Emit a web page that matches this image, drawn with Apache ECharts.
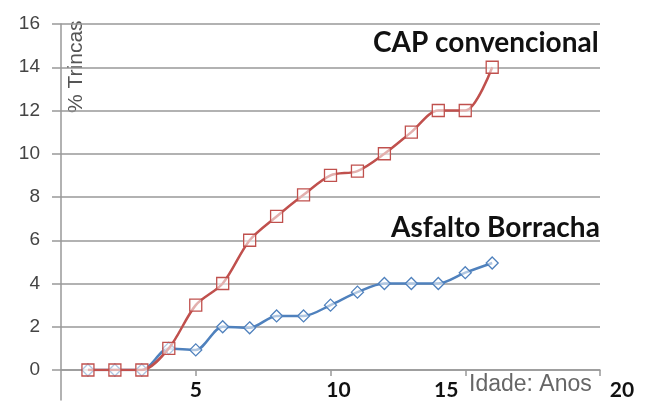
<!DOCTYPE html>
<html>
<head>
<meta charset="utf-8">
<script src="https://cdn.jsdelivr.net/npm/echarts@6/dist/echarts.min.js"></script>
<style>
  html, body { margin: 0; padding: 0; background: #fff; }
  #chart { width: 654px; height: 410px; }
</style>
</head>
<body>
<div id="chart"></div>
<script>
// Crack percentage by pavement age
const years = [1, 2, 3, 4, 5, 6, 7, 8, 9, 10, 11, 12, 13, 14, 15, 16];
const capConvencional = [0, 0, 0, 1, 3, 4, 6, 7.1, 8.1, 9, 9.2, 10, 11, 12, 12, 14];
const asfaltoBorracha = [0, 0, 0, 1, 0.93, 2, 1.95, 2.5, 2.5, 3, 3.6, 4, 4, 4, 4.5, 4.95];
const seriesNames = ['CAP convencional', 'Asfalto Borracha'];
const xTickLabels = ['5', '10', '15', '20'];

const chart = echarts.init(document.getElementById('chart'), null, { renderer: 'canvas' });

const grey = '#999999';
const xLabelStyle = { fontFamily: 'Lato', fontWeight: 'bold', fontSize: 21, color: '#111' };

chart.setOption({
  animation: false,
  backgroundColor: '#ffffff',
  grid: [
    { left: 61, right: 54, top: 24, bottom: 40 },
    // taller grid used only to draw the vertical axis line below zero
    { left: 61, right: 54, top: 24, bottom: 10 }
  ],
  xAxis: [
    {
      type: 'value', gridIndex: 0, min: 0, max: 20, interval: 5,
      axisLine: { show: true, onZero: true, lineStyle: { color: grey, width: 1.5 } },
      axisTick: { show: true, length: 6, lineStyle: { color: grey, width: 1.5 } },
      splitLine: { show: false },
      axisLabel: {
        margin: 10,
        showMinLabel: false,
        formatter: function (v) {
          const s = String(v);
          if (v === 0 || xTickLabels.indexOf(s) < 0) return '';
          if (v === 10) return '{r10|' + s + '}';
          if (v === 15) return '{r15|' + s + '}';
          if (v === 20) return '{r20|' + s + '}';
          return '{b|' + s + '}';
        },
        rich: {
          b: xLabelStyle,
          r10: Object.assign({ padding: [0, 0, 0, 16] }, xLabelStyle),
          r15: Object.assign({ padding: [0, 38, 0, 0] }, xLabelStyle),
          r20: Object.assign({ padding: [0, 0, 0, 44] }, xLabelStyle)
        }
      }
    },
    { type: 'value', gridIndex: 1, min: 0, max: 1, show: false }
  ],
  yAxis: [
    {
      type: 'value', gridIndex: 0, min: 0, max: 16, interval: 2,
      axisLine: { show: false },
      axisTick: { show: true, length: 9, lineStyle: { color: grey, width: 1.5 } },
      splitLine: { show: true, lineStyle: { color: grey, width: 1.6 } },
      axisLabel: {
        margin: 21,
        fontFamily: 'Liberation Sans, Arial, sans-serif',
        fontSize: 19,
        color: '#444'
      }
    },
    {
      type: 'value', gridIndex: 1, min: 0, max: 1,
      axisLine: { show: true, lineStyle: { color: grey, width: 1.5 } },
      axisTick: { show: false },
      axisLabel: { show: false },
      splitLine: { show: false }
    }
  ],
  series: [
    {
      name: seriesNames[1],
      type: 'line',
      xAxisIndex: 0, yAxisIndex: 0,
      data: years.map((x, i) => [x, asfaltoBorracha[i]]),
      smooth: 0.3,
      symbol: 'diamond',
      symbolSize: 12,
      z: 2,
      lineStyle: { color: '#4F81BD', width: 2.5 },
      itemStyle: { color: 'rgba(255,255,255,0.55)', borderColor: '#4F81BD', borderWidth: 1.3 }
    },
    {
      name: seriesNames[0],
      type: 'line',
      xAxisIndex: 0, yAxisIndex: 0,
      data: years.map((x, i) => [x, capConvencional[i]]),
      smooth: 0.3,
      symbol: 'rect',
      symbolSize: 12,
      z: 3,
      lineStyle: { color: '#C0504D', width: 2.5 },
      itemStyle: { color: 'rgba(255,255,255,0.55)', borderColor: '#C0504D', borderWidth: 1.3 }
    }
  ],
  graphic: [
    {
      type: 'text', left: 373, top: 29,
      style: { text: seriesNames[0], fontFamily: 'Lato', fontWeight: 'bold', fontSize: 28, fill: '#111' }
    },
    {
      type: 'text', left: 391, top: 214,
      style: { text: seriesNames[1], fontFamily: 'Lato', fontWeight: 'bold', fontSize: 28, fill: '#111' }
    },
    {
      type: 'text', x: 66, y: 113, rotation: Math.PI / 2,
      style: { text: '% Trincas', fontFamily: 'Liberation Sans, Arial, sans-serif', fontSize: 21, fill: '#555',
               verticalAlign: 'top', align: 'left' }
    },
    {
      type: 'text', left: 469, top: 373,
      style: { text: 'Idade: Anos', fontFamily: 'Liberation Sans, Arial, sans-serif', fontSize: 23, fill: '#666' }
    }
  ]
});
</script>
</body>
</html>
